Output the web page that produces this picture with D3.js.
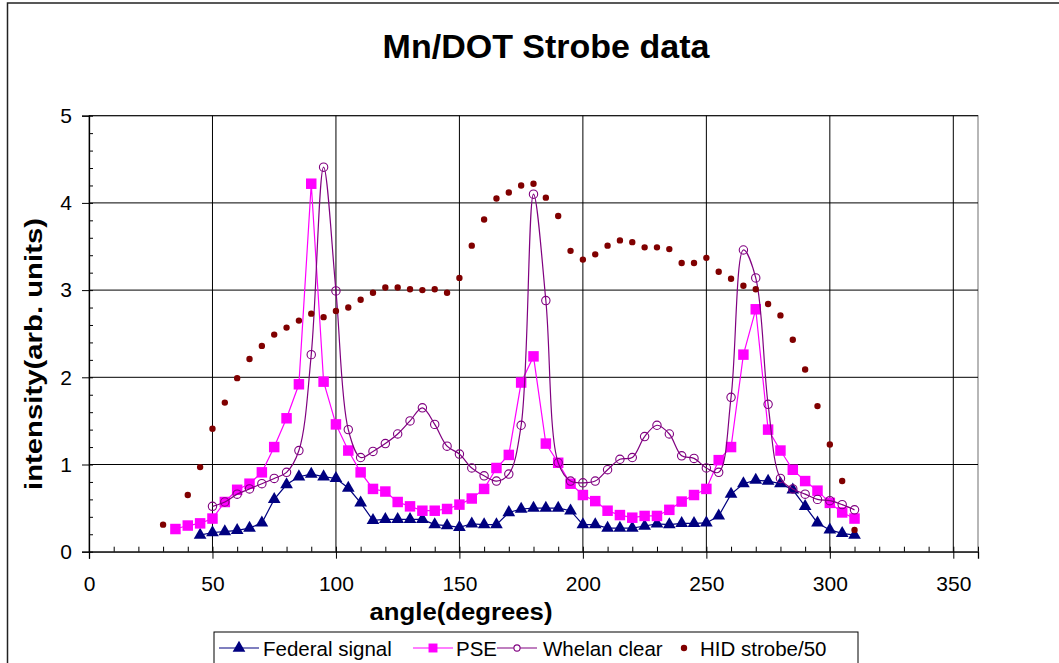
<!DOCTYPE html>
<html>
<head>
<meta charset="utf-8">
<script src="https://cdn.jsdelivr.net/npm/d3@7"></script>
<style>
  html, body { margin: 0; padding: 0; background: #fff; }
  svg { display: block; font-family: "Liberation Sans", Arial, sans-serif; }
</style>
</head>
<body>
<svg id="chart" width="1059" height="663"></svg>
<script>
// ---- data ----
const angles = d3.range(30, 311, 5);
const federalSignal = [null, null, null,
  0.19, 0.22, 0.23, 0.245, 0.27, 0.33, 0.60, 0.77, 0.86, 0.89,
  0.86, 0.84, 0.73, 0.56, 0.36, 0.37, 0.37, 0.37, 0.37, 0.31,
  0.30, 0.28, 0.32, 0.31, 0.31, 0.45, 0.49, 0.50, 0.50, 0.50,
  0.47, 0.31, 0.31, 0.27, 0.27, 0.27, 0.295, 0.32, 0.31, 0.325,
  0.325, 0.33, 0.41, 0.66, 0.78, 0.82, 0.81, 0.78, 0.71, 0.52,
  0.33, 0.25, 0.21, 0.19];
const pse = [null,
  0.26, 0.30, 0.325, 0.38, 0.57, 0.71, 0.78, 0.91, 1.20, 1.53,
  1.92, 4.22, 1.95, 1.46, 1.16, 0.91, 0.72, 0.69, 0.57, 0.52,
  0.47, 0.47, 0.49, 0.54, 0.61, 0.72, 0.96, 1.11, 1.94, 2.24,
  1.24, 1.02, 0.78, 0.65, 0.58, 0.47, 0.42, 0.39, 0.41, 0.41,
  0.48, 0.575, 0.65, 0.72, 1.05, 1.20, 2.26, 2.78, 1.40, 1.16,
  0.94, 0.81, 0.70, 0.56, 0.45, 0.38];
const whelanClear = [null, null, null, null,
  0.52, 0.57, 0.66, 0.72, 0.78, 0.84, 0.91, 1.16, 2.26, 4.41,
  2.99, 1.40, 1.08, 1.15, 1.24, 1.35, 1.50, 1.65, 1.46, 1.21,
  1.12, 0.96, 0.87, 0.81, 0.89, 1.45, 4.10, 2.88, 1.02, 0.81,
  0.79, 0.81, 0.94, 1.06, 1.08, 1.32, 1.45, 1.35, 1.10, 1.07,
  0.96, 0.91, 1.77, 3.46, 3.14, 1.69, 0.84, 0.72, 0.66, 0.60,
  0.585, 0.54, 0.48];
const hidStrobe50 = [0.31, null,
  0.65, 0.97, 1.41, 1.71, 1.99, 2.21, 2.36, 2.49, 2.57, 2.65,
  2.73, 2.69, 2.76, 2.80, 2.89, 2.97, 3.03, 3.03, 3.01, 3.00,
  3.01, 2.97, 3.14, 3.51, 3.81, 4.05, 4.12, 4.20, 4.22, 4.06,
  3.85, 3.45, 3.35, 3.41, 3.51, 3.57, 3.55, 3.49, 3.49, 3.47,
  3.31, 3.31, 3.37, 3.21, 3.13, 3.05, 3.01, 2.84, 2.71, 2.43,
  2.09, 1.67, 1.23, 0.81, 0.25];
const seriesNames = ["Federal signal", "PSE", "Whelan clear", "HID strobe/50"];
const xTicks = [0, 50, 100, 150, 200, 250, 300, 350];
const yTicks = [0, 1, 2, 3, 4, 5];
const titleText = "Mn/DOT Strobe data";
const xTitle = "angle(degrees)";
const yTitle = "intensity(arb. units)";

// ---- layout ----
const svg = d3.select("#chart");
const L = 89, R = 978, T = 115.7, B = 551.7;
const x = d3.scaleLinear().domain([0, 360]).range([L, R]);
const y = d3.scaleLinear().domain([0, 5]).range([B, T]);

// outer chart border
svg.append("rect").attr("x", 7.5).attr("y", 3).attr("width", 1100).attr("height", 700)
  .attr("fill", "#fff").attr("stroke", "#222").attr("stroke-width", 1.5);

// title
svg.append("text").attr("x", 546).attr("y", 58).attr("text-anchor", "middle")
  .attr("font-size", 34).attr("font-weight", "bold").text(titleText);

// plot area border
svg.append("rect").attr("x", L).attr("y", T).attr("width", R - L).attr("height", B - T)
  .attr("fill", "none").attr("stroke", "#888").attr("stroke-width", 1.2);

// gridlines
const grid = svg.append("g");
grid.selectAll(".hg").data(yTicks.filter(d => d > 0)).enter().append("line")
  .attr("x1", L).attr("x2", R).attr("y1", d => y(d)).attr("y2", d => y(d))
  .attr("stroke", "#000").attr("stroke-width", 1);
grid.selectAll(".vg").data(xTicks.filter(d => d > 0)).enter().append("line")
  .attr("y1", T).attr("y2", B).attr("x1", d => x(d)).attr("x2", d => x(d))
  .attr("stroke", "#000").attr("stroke-width", 1);

// axes
const yAxis = svg.append("g").attr("transform", `translate(${L},0)`)
  .call(d3.axisLeft(y).tickValues(yTicks).tickSize(7).tickPadding(10).tickFormat(d3.format("d")));
const yMinor = svg.append("g").attr("transform", `translate(${L},0)`)
  .call(d3.axisRight(y).tickValues(d3.range(0, 5.01, 0.2)).tickSize(4).tickFormat(""));
const xAxis = svg.append("g").attr("transform", `translate(0,${B})`)
  .call(d3.axisBottom(x).tickValues(xTicks).tickSize(7).tickPadding(17).tickFormat(d3.format("d")));
const xMinor = svg.append("g").attr("transform", `translate(0,${B})`)
  .call(d3.axisTop(x).tickValues(d3.range(0, 361, 10)).tickSize(5).tickFormat(""));
[yAxis, yMinor, xAxis, xMinor].forEach(g => {
  g.select(".domain").attr("stroke", "#000").attr("stroke-width", 1.3);
  g.selectAll(".tick line").attr("stroke", "#000").attr("stroke-width", 1);
  g.selectAll(".tick text").attr("font-size", 21).attr("fill", "#000")
    .attr("font-family", '"Liberation Sans", Arial, sans-serif');
});
yMinor.select(".domain").remove();
xMinor.select(".domain").remove();

// axis titles
svg.append("text").attr("x", 461).attr("y", 620).attr("text-anchor", "middle")
  .attr("font-size", 23).attr("font-weight", "bold")
  .attr("textLength", 183).attr("lengthAdjust", "spacingAndGlyphs").text(xTitle);
svg.append("text").attr("transform", "translate(42,354) rotate(-90)").attr("text-anchor", "middle")
  .attr("font-size", 23).attr("font-weight", "bold")
  .attr("textLength", 272).attr("lengthAdjust", "spacingAndGlyphs").text(yTitle);

// ---- series ----
const rows = angles.map((a, i) => ({ a, f: federalSignal[i], p: pse[i], w: whelanClear[i], h: hidStrobe50[i] }));
const plot = svg.append("g");
function lineFor(key, curve) {
  return d3.line().defined(d => d[key] != null).x(d => x(d.a)).y(d => y(d[key])).curve(curve);
}
const cfg = [
  { key: "f", color: "#000080", sym: d3.symbolTriangle, size: 70, curve: d3.curveLinear, fill: true },
  { key: "p", color: "#FF00FF", sym: d3.symbolSquare, size: 110, curve: d3.curveLinear, fill: true },
  { key: "w", color: "#800080", sym: d3.symbolCircle, size: 55, curve: d3.curveCatmullRom.alpha(0.5), fill: false },
  { key: "h", color: "#800000", sym: d3.symbolCircle, size: 32, curve: null, fill: true }
];
cfg.forEach(c => {
  if (c.curve) {
    plot.append("path").datum(rows).attr("d", lineFor(c.key, c.curve))
      .attr("fill", "none").attr("stroke", c.color).attr("stroke-width", 1.2);
  }
  plot.append("g").selectAll("path").data(rows.filter(d => d[c.key] != null)).enter().append("path")
    .attr("transform", d => `translate(${x(d.a)},${y(d[c.key])})`)
    .attr("d", d3.symbol().type(c.sym).size(c.size))
    .attr("fill", c.fill ? c.color : "none")
    .attr("stroke", c.fill ? "none" : c.color).attr("stroke-width", 1.1);
});

// ---- legend ----
const lg = svg.append("g");
lg.append("rect").attr("x", 214).attr("y", 632).attr("width", 644).attr("height", 40)
  .attr("fill", "#fff").attr("stroke", "#000").attr("stroke-width", 1);
const legendX = [219, 413, 497, 664];
const textX = [263, 456, 543, 700];
cfg.forEach((c, i) => {
  const cx = legendX[i] + 20;
  if (c.curve) {
    lg.append("line").attr("x1", legendX[i]).attr("x2", legendX[i] + 40).attr("y1", 648).attr("y2", 648)
      .attr("stroke", c.color).attr("stroke-width", 1.2);
  }
  lg.append("path").attr("transform", `translate(${cx},648)`)
    .attr("d", d3.symbol().type(c.sym).size(i === 2 ? 30 : (i === 1 ? 80 : c.size)))
    .attr("fill", c.fill ? c.color : "#fff")
    .attr("stroke", c.fill ? "none" : c.color).attr("stroke-width", 1.1);
  lg.append("text").attr("x", textX[i]).attr("y", 655.5).attr("font-size", 20.5).text(seriesNames[i]);
});
</script>
</body>
</html>
